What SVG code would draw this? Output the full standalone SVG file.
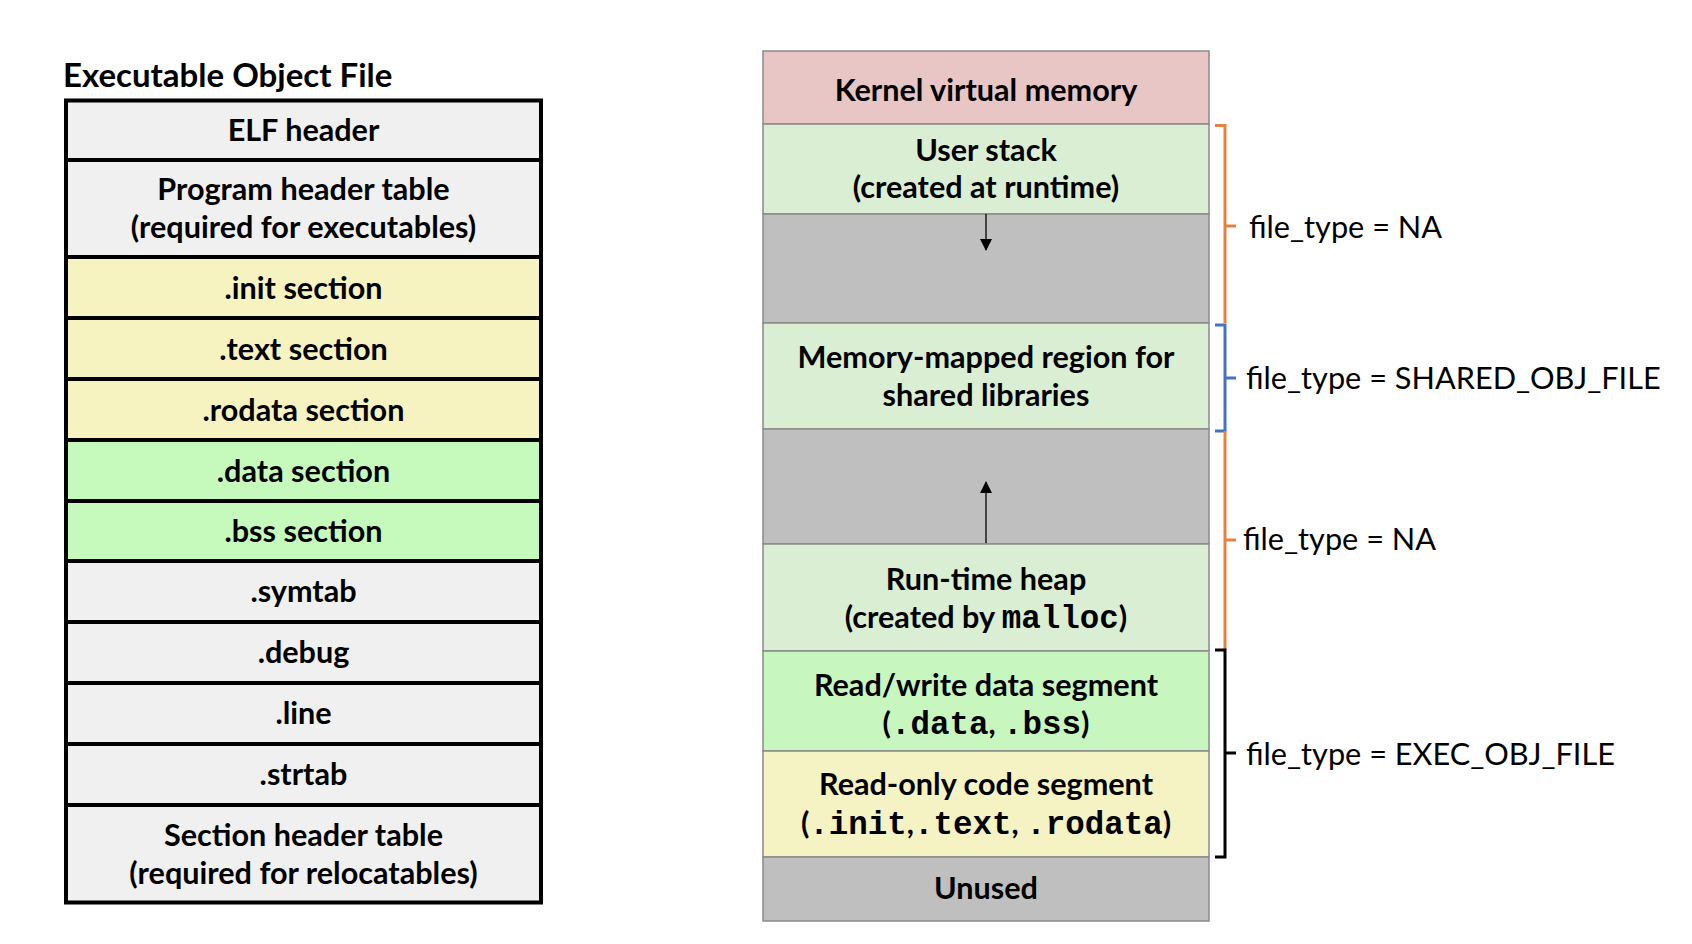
<svg xmlns="http://www.w3.org/2000/svg" width="1692" height="944" viewBox="0 0 1692 944">
<defs>
<style>
.t{font-family:Lato,"Open Sans","Liberation Sans",sans-serif;font-weight:bold;font-size:30.6px;fill:#000;text-anchor:middle}
.m{font-family:"Liberation Mono","Courier New",monospace;font-weight:bold;font-size:32.5px}
.lab{font-family:Lato,"Open Sans","Liberation Sans",sans-serif;font-size:30.7px;fill:#000}
.title{font-family:Lato,"Open Sans","Liberation Sans",sans-serif;font-weight:bold;font-size:33px;fill:#000}
.L{stroke:#000;stroke-width:4}
.R{stroke:#8a8a8a;stroke-width:1.5}
.gray{fill:#F0F0F0}.yel{fill:#F6F3C1}.grn{fill:#C6FABC}
.pink{fill:#E8C6C6}.lg{fill:#DAEED3}.mg{fill:#BFBFBF}.rw{fill:#C8F6BF}.ro{fill:#F5F2C3}
.br{fill:none;stroke-width:3}
</style>
<marker id="ah" viewBox="0 0 12 12" refX="11" refY="6" markerWidth="12" markerHeight="12" markerUnits="userSpaceOnUse" orient="auto">
<path d="M0,0 L12,6 L0,12 z" fill="#000"/>
</marker>
</defs>
<rect width="1692" height="944" fill="#fff"/>

<text id="title" class="title" x="63" y="87">Executable Object File</text>

<g id="elf">
<g id="elf-header"><rect class="L gray" x="66" y="100.5" width="475" height="59.5"/><text class="t" x="303.5" y="141">ELF header</text></g>
<g id="prog-header"><rect class="L gray" x="66" y="160" width="475" height="97"/><text class="t" x="303.5" y="200">Program header table</text><text class="t" x="303.5" y="238">(required for executables)</text></g>
<g id="init"><rect class="L yel" x="66" y="257" width="475" height="61"/><text class="t" x="303.5" y="299">.init section</text></g>
<g id="text-sec"><rect class="L yel" x="66" y="318" width="475" height="61"/><text class="t" x="303.5" y="360">.text section</text></g>
<g id="rodata"><rect class="L yel" x="66" y="379" width="475" height="61"/><text class="t" x="303.5" y="421">.rodata section</text></g>
<g id="data"><rect class="L grn" x="66" y="440" width="475" height="61"/><text class="t" x="303.5" y="482">.data section</text></g>
<g id="bss"><rect class="L grn" x="66" y="501" width="475" height="60"/><text class="t" x="303.5" y="542">.bss section</text></g>
<g id="symtab"><rect class="L gray" x="66" y="561" width="475" height="61"/><text class="t" x="303.5" y="602">.symtab</text></g>
<g id="debug"><rect class="L gray" x="66" y="622" width="475" height="61"/><text class="t" x="303.5" y="663">.debug</text></g>
<g id="line"><rect class="L gray" x="66" y="683" width="475" height="61"/><text class="t" x="303.5" y="724">.line</text></g>
<g id="strtab"><rect class="L gray" x="66" y="744" width="475" height="61"/><text class="t" x="303.5" y="785">.strtab</text></g>
<g id="sec-header"><rect class="L gray" x="66" y="805" width="475" height="97.5"/><text class="t" x="303.5" y="846">Section header table</text><text class="t" x="303.5" y="884">(required for relocatables)</text></g>
</g>

<g id="mem">
<g id="kernel"><rect class="R pink" x="763" y="51" width="446" height="73"/><text class="t" x="986" y="101">Kernel virtual memory</text></g>
<g id="stack"><rect class="R lg" x="763" y="124" width="446" height="90"/><text class="t" x="986" y="161">User stack</text><text class="t" x="986" y="198">(created at runtime)</text></g>
<g id="gap1"><rect class="R mg" x="763" y="214" width="446" height="109"/></g>
<g id="mmap"><rect class="R lg" x="763" y="323" width="446" height="106"/><text class="t" x="986" y="368">Memory-mapped region for</text><text class="t" x="986" y="406">shared libraries</text></g>
<g id="gap2"><rect class="R mg" x="763" y="429" width="446" height="115"/></g>
<g id="heap"><rect class="R lg" x="763" y="544" width="446" height="107"/><text class="t" x="986" y="590">Run-time heap</text><text class="t" x="986" y="628">(created by <tspan class="m">malloc</tspan>)</text></g>
<g id="rwseg"><rect class="R rw" x="763" y="651" width="446" height="100"/><text class="t" x="986" y="696">Read/write data segment</text><text class="t" x="986" y="734">(<tspan class="m">.data</tspan>, <tspan class="m">.bss</tspan>)</text></g>
<g id="roseg"><rect class="R ro" x="763" y="751" width="446" height="106"/><text class="t" x="986" y="795">Read-only code segment</text><text class="t" x="986" y="834">(<tspan class="m">.init</tspan>,<tspan class="m">.text</tspan>, <tspan class="m">.rodata</tspan>)</text></g>
<g id="unused"><rect class="R mg" x="763" y="857" width="446" height="64"/><text class="t" x="986" y="899">Unused</text></g>
</g>

<g id="connectors">
<line x1="986" y1="214" x2="986" y2="250" stroke="#000" stroke-width="1.3" marker-end="url(#ah)"/>
<line x1="986" y1="543" x2="986" y2="482" stroke="#000" stroke-width="1.3" marker-end="url(#ah)"/>
</g>

<g id="brackets">
<path class="br" stroke="#E5823F" d="M1215,125.5 H1225 V323 M1225,226 H1236"/>
<path class="br" stroke="#4472C4" d="M1215,325 H1225 V431 H1215 M1225,378 H1236"/>
<path class="br" stroke="#E5823F" d="M1225,431 V650 M1225,540 H1236"/>
<path class="br" stroke="#000" d="M1215,650 H1225 V857 H1215 M1225,753 H1236"/>
</g>

<g id="labels">
<text class="lab" x="1249" y="238">file_type = NA</text>
<text class="lab" x="1246" y="389">file_type = SHARED_OBJ_FILE</text>
<text class="lab" x="1243" y="550">file_type = NA</text>
<text class="lab" x="1246" y="765">file_type = EXEC_OBJ_FILE</text>
</g>
</svg>
